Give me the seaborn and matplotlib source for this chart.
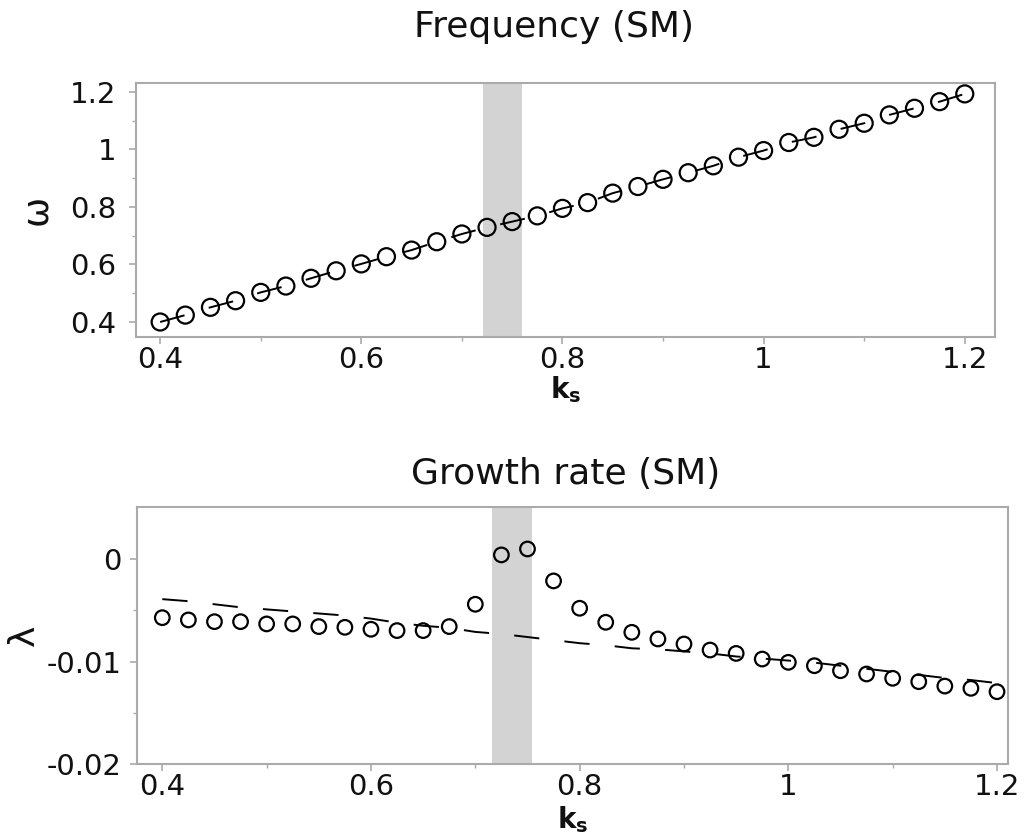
import numpy as np
import pandas as pd
import matplotlib
matplotlib.use("Agg")
import matplotlib.pyplot as plt
import seaborn as sns

sns.set_style("ticks")
plt.rcParams['font.family'] = ['DejaVu Sans']
plt.rcParams['text.color'] = '#111111'
plt.rcParams['axes.labelcolor'] = '#111111'

# wavenumber samples
k_s = [0.4, 0.425, 0.45, 0.475, 0.5, 0.525, 0.55, 0.575, 0.6, 0.625, 0.65,
       0.675, 0.7, 0.725, 0.75, 0.775, 0.8, 0.825, 0.85, 0.875, 0.9, 0.925,
       0.95, 0.975, 1.0, 1.025, 1.05, 1.075, 1.1, 1.125, 1.15, 1.175, 1.2]

# frequency (circles = simulation, dashed = theory)
omega_sim = [0.400, 0.424, 0.451, 0.474, 0.503, 0.525, 0.552, 0.578, 0.602,
             0.627, 0.650, 0.679, 0.706, 0.729, 0.749, 0.769, 0.795, 0.815,
             0.848, 0.871, 0.896, 0.919, 0.943, 0.973, 0.996, 1.024, 1.042,
             1.070, 1.091, 1.120, 1.143, 1.166, 1.193]
omega_th = omega_sim

# growth rate
lam_sim = [-0.00571, -0.00593, -0.00610, -0.00610, -0.00632, -0.00632,
           -0.00658, -0.00665, -0.00684, -0.00697, -0.00697, -0.00658,
           -0.00440, 0.00042, 0.00100, -0.00212, -0.00479, -0.00616,
           -0.00714, -0.00779, -0.00828, -0.00887, -0.00920, -0.00975,
           -0.01007, -0.01040, -0.01089, -0.01121, -0.01163, -0.01196,
           -0.01239, -0.01261, -0.01294]
lam_th = [-0.0039, -0.0041, -0.0044, -0.0047, -0.0049, -0.0051, -0.0053,
          -0.0055, -0.0058, -0.0062, -0.0065, -0.0067, -0.0071, -0.0073,
          -0.0076, -0.0079, -0.0082, -0.0084, -0.0087, -0.0088, -0.0090,
          -0.0092, -0.0095, -0.0097, -0.0099, -0.0101, -0.0104, -0.0107,
          -0.0110, -0.0113, -0.0116, -0.0118, -0.0121]

band_top = (0.721, 0.760)
band_bot = (0.716, 0.754)

df = pd.DataFrame({"k": k_s, "w_sim": omega_sim, "w_th": omega_th,
                   "l_sim": lam_sim, "l_th": lam_th})

fig = plt.figure(figsize=(10.32, 8.38), dpi=100)
ax1 = fig.add_axes([0.1318, 0.5979, 0.8323, 0.3031])
ax2 = fig.add_axes([0.1325, 0.0883, 0.8442, 0.3067])

spine_c = "#aaaaaa"
tick_fs = 21

def style_axis(ax, ypad):
    for s in ax.spines.values():
        s.set_color(spine_c)
        s.set_linewidth(1.5)
    ax.tick_params(which="major", length=5, width=1.2, color=spine_c,
                   labelsize=tick_fs, labelcolor="#111111")
    ax.tick_params(which="minor", length=3, width=1.0, color=spine_c)
    ax.tick_params(axis="x", which="major", pad=1.5)
    ax.tick_params(axis="y", which="major", pad=ypad)

# top panel
ax1.axvspan(*band_top, color="#d3d3d3", lw=0, zorder=0)
sns.lineplot(data=df, x="k", y="w_th", ax=ax1, color="black", linewidth=1.4,
             linestyle=(0, (13, 13)), errorbar=None, zorder=2)
sns.scatterplot(data=df, x="k", y="w_sim", ax=ax1, s=150, marker="o",
                facecolor="none", edgecolor="black", linewidth=1.6, zorder=3)
ax1.set_xlim(0.376, 1.23)
ax1.set_ylim(0.348, 1.231)
ax1.set_xticks([0.4, 0.6, 0.8, 1.0, 1.2], ["0.4", "0.6", "0.8", "1", "1.2"])
ax1.set_xticks([0.5, 0.7, 0.9, 1.1], minor=True)
ax1.set_yticks([0.4, 0.6, 0.8, 1.0, 1.2], ["0.4", "0.6", "0.8", "1", "1.2"])
ax1.set_yticks([0.5, 0.7, 0.9, 1.1], minor=True)
style_axis(ax1, 9)
ax1.set_xlabel(r"$\mathbf{k_s}$", fontsize=20, labelpad=0)
ax1.set_ylabel("ω", fontsize=26, labelpad=12)

# bottom panel
ax2.axvspan(*band_bot, color="#d3d3d3", lw=0, zorder=0)
sns.lineplot(data=df, x="k", y="l_th", ax=ax2, color="black", linewidth=1.4,
             linestyle=(0, (13, 13)), errorbar=None, zorder=2)
sns.scatterplot(data=df, x="k", y="l_sim", ax=ax2, s=110, marker="o",
                facecolor="none", edgecolor="black", linewidth=1.6, zorder=3)
ax2.set_xlim(0.3755, 1.2105)
ax2.set_ylim(-0.02, 0.0051)
ax2.set_xticks([0.4, 0.6, 0.8, 1.0, 1.2], ["0.4", "0.6", "0.8", "1", "1.2"])
ax2.set_xticks([0.5, 0.7, 0.9, 1.1], minor=True)
ax2.set_yticks([-0.02, -0.01, 0.0], ["-0.02", "-0.01", "0"])
ax2.set_yticks([-0.015, -0.005], minor=True)
style_axis(ax2, 6)
ax2.set_xlabel(r"$\mathbf{k_s}$", fontsize=20, labelpad=2)
ax2.set_ylabel("λ", fontsize=26, labelpad=4)

fig.text(0.537, 0.9558, "Frequency (SM)", ha="center", va="baseline", fontsize=26)
fig.text(0.548, 0.4224, "Growth rate (SM)", ha="center", va="baseline", fontsize=26)

fig.savefig("out.png", dpi=100)
